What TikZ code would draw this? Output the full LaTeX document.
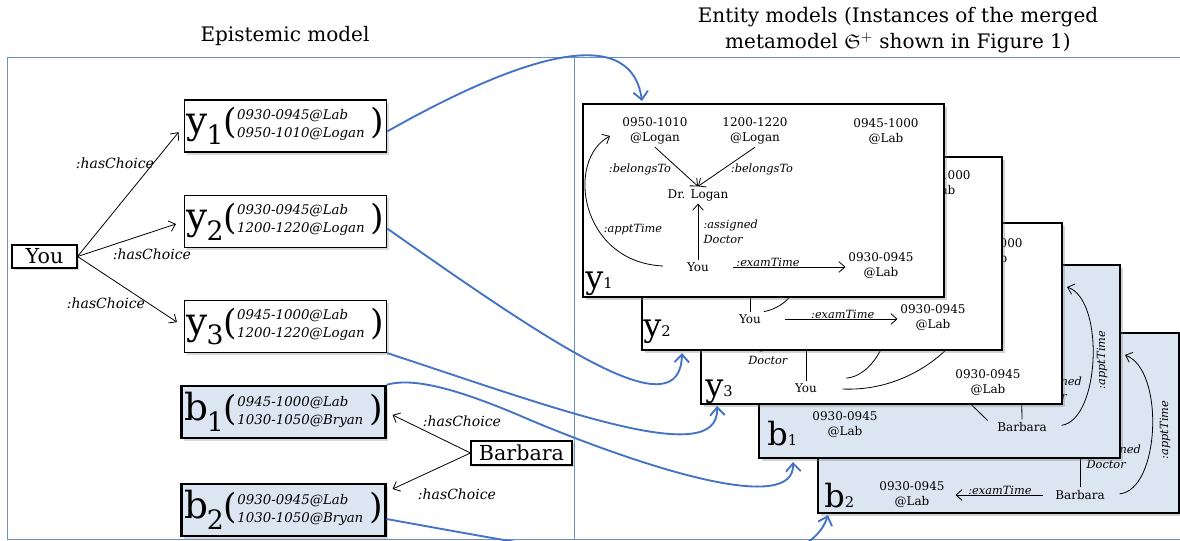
\documentclass[tikz,border=0pt]{standalone}
\usepackage{amssymb}
\usepackage{fontspec}
\setmainfont{DejaVu Serif}
\usetikzlibrary{positioning,arrows.meta,shadows,calc}
\definecolor{linkblue}{RGB}{68,114,196}
\definecolor{framegray}{RGB}{110,145,195}
\definecolor{paleblue}{RGB}{220,230,242}
\newcommand{\choicetext}[4]{{\fontsize{28}{28}\selectfont #1}\kern-1pt\raisebox{-8pt}{\fontsize{20}{20}\selectfont #2}{\fontsize{26}{26}\selectfont(}\raisebox{4pt}{\itshape\begin{tabular}{@{}l@{}}#3\\[1.5pt]#4\end{tabular}}{\fontsize{26}{26}\selectfont\,)}}
\newcommand{\paneltag}[2]{{\fontsize{24}{24}\selectfont #1}{\fontsize{11}{11}\selectfont #2}}

\begin{document}
\begin{tikzpicture}[x=0.75pt, y=-0.75pt,
  >={Straight Barb[length=4.5pt,width=8pt]},
  arr/.style={->, line width=0.6pt},
  actor/.style={draw, line width=0.8pt, fill=white, inner sep=0pt, font=\fontsize{15.5}{16}\selectfont, drop shadow={opacity=0.3,shadow xshift=1.5pt,shadow yshift=-1.5pt}},
  choice/.style={draw, line width=0.9pt, fill=white, inner sep=2pt, minimum width=149pt, minimum height=39pt, font=\fontsize{10}{12}\selectfont, drop shadow={opacity=0.3,shadow xshift=2pt,shadow yshift=-2pt}},
  bchoice/.style={choice, fill=paleblue, line width=1.8pt},
  rel/.style={font=\itshape\fontsize{10.5}{12}\selectfont, inner sep=1pt},
  panel/.style={draw, line width=2.2pt, fill=white, inner sep=0pt, outer sep=0pt, drop shadow={opacity=0.35,shadow xshift=2.5pt,shadow yshift=-2.5pt}},
  bpanel/.style={panel, fill=paleblue},
  ptext/.style={font=\fontsize{9}{11.25}\selectfont, align=center, inner sep=2pt},
  plabel/.style={font=\itshape\fontsize{8.5}{11.5}\selectfont, inner sep=1pt},
  tag/.style={anchor=base west, inner sep=0pt},
  link/.style={draw=linkblue, line width=1.4pt, -{Straight Barb[length=6pt,width=11pt]}},
  frame/.style={draw=framegray, line width=0.7pt},
  title/.style={font=\fontsize{15}{20}\selectfont, align=center}]
\useasboundingbox (0,0) rectangle (1180,541);
\clip (0,0) rectangle (1180,541);

\node[title] (epititle) at (285,36) {Epistemic model};
\node[title] (enttitle) at (898,30) {Entity models (Instances of the merged\\metamodel $\mathfrak{S}^{+}$ shown in Figure 1)};
\draw[frame] (1185,57) -- (7,57) -- (7,539) -- (1185,539);
\draw[frame] (574,57) -- (574,539);

\node[bpanel, minimum width=270.75pt, minimum height=135pt] (panb2) at (998.5,423) {};
\node[ptext] (b2dr) at (1080,430) {Dr. Bryan};
\node[ptext] (b2barb) at (1080,495) {Barbara};
\node[ptext] (b2tD) at (912,495) {0930-0945\\@Lab};
\draw[arr] (b2barb.north) -- (b2dr.south);
\node[plabel, align=left, anchor=west] (b2ad) at (1085,457) {:assigned\\Doctor};
\draw[arr, shorten <=7pt, shorten >=6pt] (b2barb.west) -- node[plabel, above=-1pt] (b2et) {:examTime} (b2barb.west -| b2tD.east);
\coordinate (b2apt) at (1125,355);
\draw[arr, shorten <=9pt] (b2barb.east) .. controls (1160,490) and (1165,370) .. (b2apt);
\node[plabel, rotate=90] (b2at) at (1165,430) {:apptTime};
\node[tag] (b2tag) at (824,507) {\paneltag{b}{2}};

\node[bpanel, minimum width=270.75pt, minimum height=144.75pt] (panb1) at (939.5,361.5) {};
\node[ptext] (b1tC) at (915,350) {0945-1000\\@Lab};
\node[ptext] (b1dr) at (1021,350) {Dr. Bryan};
\node[ptext] (b1barb) at (1022,427) {Barbara};
\node[ptext] (b1tD) at (845,425) {0930-0945\\@Lab};
\draw[arr] (b1barb.north) -- (b1dr.south);
\node[plabel, align=left, anchor=west] (b1ad) at (1026,389) {:assigned\\Doctor};
\draw[arr, shorten <=7pt] (b1barb.west) -- (b1tC);
\coordinate (b1apt) at (1067,287);
\draw[arr, shorten <=9pt] (b1barb.east) .. controls (1100,420) and (1105,300) .. (b1apt);
\node[plabel, rotate=90] (b1at) at (1102,360) {:apptTime};
\node[tag] (b1tag) at (767,445) {\paneltag{b}{1}};

\node[panel, minimum width=270.75pt, minimum height=135.75pt] (pany3) at (881.5,313.5) {};
\node[ptext] (y3tC) at (990,252) {0945-1000\\@Lab};
\node[ptext] (y3tB) at (900,250) {1200-1220\\@Logan};
\node[ptext] (y3dr) at (806,300) {Dr. Logan};
\node[ptext] (y3you) at (806,388) {You};
\node[ptext] (y3tD) at (988,383) {0930-0945\\@Lab};
\draw[arr] (y3you.north) -- (y3dr.south);
\node[plabel, align=right, anchor=east] (y3ad) at (789,353) {:assigned\\Doctor};
\draw[arr, shorten <=17pt] (y3you.east) .. controls (910,392) and (975,345) .. (y3tC.south);
\draw[arr, shorten <=20pt] (y3you.north east) .. controls (870,376) and (895,345) .. (y3tB.south);
\node[tag] (y3tag) at (705,396) {\paneltag{y}{3}};

\node[panel, minimum width=270pt, minimum height=144.75pt] (pany2) at (822,253.5) {};
\node[ptext] (y2tC) at (938,184) {0945-1000\\@Lab};
\node[ptext] (y2tB) at (807,183) {1200-1220\\@Logan};
\node[ptext] (y2dr) at (750,247) {Dr. Logan};
\node[ptext] (y2you) at (750,319) {You};
\node[ptext] (y2tD) at (933,318) {0930-0945\\@Lab};
\draw[arr] (y2you.north) -- (y2dr.south);
\draw[arr, shorten <=16pt] (y2you.east) -- node[plabel, above=-1pt, pos=0.59] (y2et) {:examTime} (y2you.east -| y2tD.west);
\draw[arr] (y2you.north east) .. controls (800,305) and (815,260) .. (y2tB.south);
\node[tag] (y2tag) at (643,336) {\paneltag{y}{2}};

\node[panel, minimum width=270.75pt, minimum height=144.75pt] (pany1) at (763.5,200.5) {};
\node[ptext] (y1tA) at (655,131) {0950-1010\\@Logan};
\node[ptext] (y1tB) at (755,131) {1200-1220\\@Logan};
\node[ptext] (y1tC) at (886,132) {0945-1000\\@Lab};
\node[ptext] (y1dr) at (698,195) {Dr. Logan};
\node[ptext] (y1you) at (698,267) {You};
\node[ptext] (y1tD) at (881,266) {0930-0945\\@Lab};
\draw[arr] (y1tA.south) -- (y1dr.north);
\draw[arr] (y1tB.south) -- (y1dr.north);
\node[plabel] (y1bl1) at (640,169) {:belongsTo};
\node[plabel] (y1bl2) at (762,169) {:belongsTo};
\draw[arr] (y1you.north) -- (y1dr.south);
\node[plabel, align=left, anchor=west] (y1ad) at (702,231.5) {:assigned\\Doctor};
\draw[arr, shorten <=16pt] (y1you.east) -- node[plabel, above=-1pt, pos=0.42] (y1et) {:examTime} (y1you.east -| y1tD.west);
\draw[arr, shorten <=16pt, shorten >=8pt] (y1you.west) .. controls (580,262) and (565,160) .. (y1tA.west);
\node[plabel] (y1at) at (633,230) {:apptTime};
\node[tag] (y1tag) at (585,289) {\paneltag{y}{1}};

\node[actor, minimum width=48.75pt, minimum height=17.25pt] (you) at (44.5,256.5) {You};
\node[choice] (ych1) at (285.5,126) {\choicetext{y}{1}{0930-0945@Lab}{0950-1010@Logan}};
\node[choice] (ych2) at (285.5,221.5) {\choicetext{y}{2}{0930-0945@Lab}{1200-1220@Logan}};
\node[choice] (ych3) at (285.5,326.5) {\choicetext{y}{3}{0945-1000@Lab}{1200-1220@Logan}};
\node[bchoice] (bch1) at (283.5,412) {\choicetext{b}{1}{0945-1000@Lab}{1030-1050@Bryan}};
\node[bchoice] (bch2) at (283.5,510) {\choicetext{b}{2}{0930-0945@Lab}{1030-1050@Bryan}};
\node[actor, minimum width=75.75pt, minimum height=18pt] (barb) at (521.5,453) {Barbara};
\draw[arr, shorten >=6pt] (you.east) -- (ych1.west);
\draw[arr, shorten >=6pt] (you.east) -- (ych2.west);
\draw[arr, shorten >=6pt] (you.east) -- (ych3.west);
\draw[arr, shorten >=5pt] (barb.west) -- (bch1.east);
\draw[arr, shorten >=5pt] (barb.west) -- (bch2.10);
\node[rel] (hc1) at (115,163) {:hasChoice};
\node[rel] (hc2) at (152,254) {:hasChoice};
\node[rel] (hc3) at (106,303) {:hasChoice};
\node[rel] (hc4) at (462,421) {:hasChoice};
\node[rel] (hc5) at (457,494) {:hasChoice};

\draw[link] (ych1.-3) .. controls (510,62) and (630,18) .. ($(pany1.north west)+(59,-3)$);
\draw[link] (ych2.-4) .. controls (560,350) and (680,430) .. ($(pany2.south west)+(40,3)$);
\draw[link] (ych3.south east) .. controls (560,410) and (720,470) .. ($(pany3.south west)+(16,2)$);
\draw[link] (bch1.north east) .. controls (410,378) and (450,385) .. (530,420) .. controls (650,470) and (795,515) .. ($(panb1.south west)+(34,4)$);
\draw[link] (bch2.-5) .. controls (560,550) and (800,600) .. ($(panb2.south west)+(10,2)$);
\end{tikzpicture}
\end{document}
